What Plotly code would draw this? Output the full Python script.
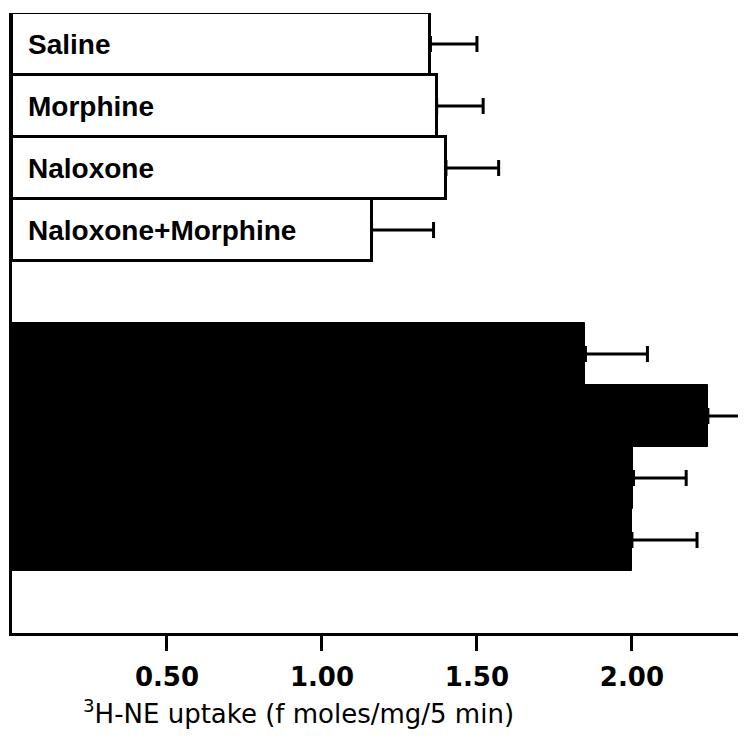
import plotly.graph_objects as go

# ---- data ----
white_labels = ["Saline", "Morphine", "Naloxone", "Naloxone+Morphine"]
white_slots = [0, 1, 2, 3]
white_values = [1.35, 1.37, 1.40, 1.16]
white_errors = [0.15, 0.15, 0.17, 0.20]

black_slots = [5, 6, 7, 8]
black_values = [1.85, 2.245, 2.005, 2.00]
black_errors = [0.20, 0.115, 0.17, 0.21]

tick_vals = [0.5, 1.0, 1.5, 2.0]
tick_text = ["0.50", "1.00", "1.50", "2.00"]
x_title = "<sup>3</sup>H-NE uptake (f moles/mg/5 min)"

fig = go.Figure()

fig.add_trace(go.Bar(
    x=white_values, y=white_slots, orientation="h", width=1,
    marker=dict(color="white", line=dict(color="black", width=3)),
    error_x=dict(type="data", symmetric=False, array=white_errors,
                 arrayminus=[0] * len(white_errors),
                 color="black", thickness=3, width=8),
    showlegend=False,
))
fig.add_trace(go.Bar(
    x=black_values, y=black_slots, orientation="h", width=1,
    marker=dict(color="black", line=dict(color="black", width=1)),
    error_x=dict(type="data", symmetric=False, array=black_errors,
                 arrayminus=[0] * len(black_errors),
                 color="black", thickness=3, width=8),
    showlegend=False,
))

for lab, s in zip(white_labels, white_slots):
    fig.add_annotation(x=0, y=s, xref="x", yref="y", text=lab,
                       showarrow=False, xanchor="left", yanchor="middle",
                       xshift=14,
                       font=dict(family="Liberation Sans", size=28, color="black", weight="bold"))

fig.add_annotation(x=0.391, y=0, xref="paper", yref="paper", text=x_title,
                   showarrow=False, xanchor="center", yanchor="middle",
                   yshift=-79,
                   font=dict(family="DejaVu Sans", size=26, color="black"))

# the page body adds an 8px offset, so the figure is 8px smaller
fig.update_layout(
    width=738, height=739,
    margin=dict(l=4, r=0, t=5, b=114),
    paper_bgcolor="white", plot_bgcolor="white",
    bargap=0, barmode="overlay",
)
fig.update_xaxes(range=[0, 2.368], tickvals=tick_vals, ticktext=tick_text,
                 ticks="outside", ticklen=15, tickwidth=3, tickcolor="black",
                 ticklabelstandoff=4,
                 showline=True, linecolor="black", linewidth=3,
                 showgrid=False, zeroline=False,
                 tickfont=dict(family="DejaVu Sans", size=26, color="black", weight="bold"))
fig.update_yaxes(range=[9.5, -0.5], showticklabels=False, ticks="",
                 showline=True, linecolor="black", linewidth=3,
                 showgrid=False, zeroline=False)

fig.write_html("out.html")
